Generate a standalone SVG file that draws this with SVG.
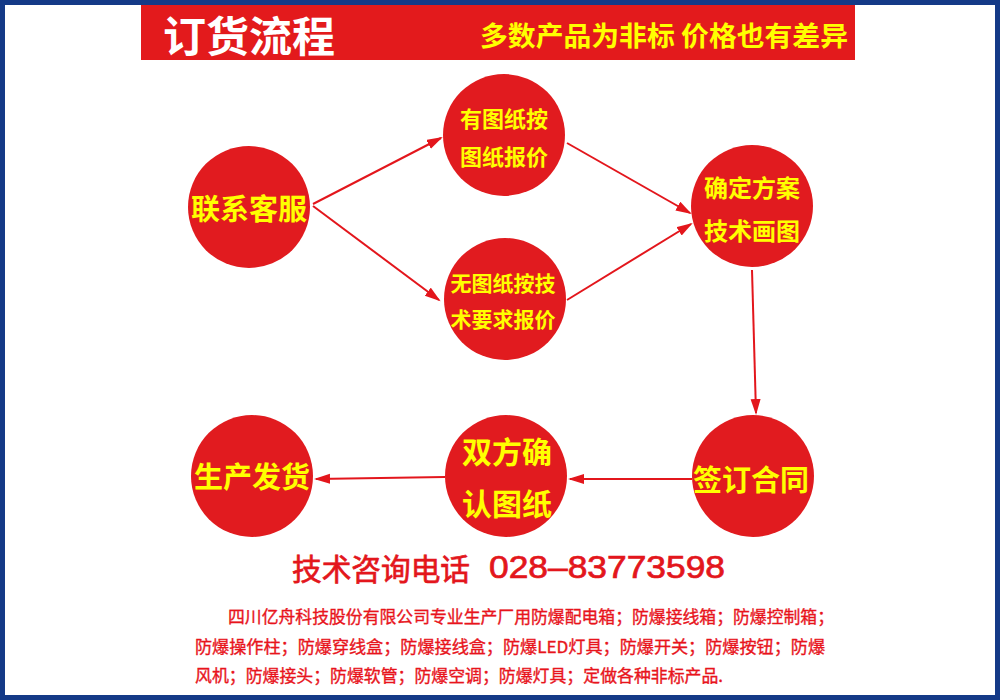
<svg xmlns="http://www.w3.org/2000/svg" width="1000" height="700" viewBox="0 0 1000 700">
<defs>
<style>
.node circle{fill:#e11b1f}
.nt{font-family:"Noto Sans CJK SC","Liberation Sans",sans-serif;font-weight:bold;fill:#ffff00;text-anchor:middle;dominant-baseline:central}
.conn line{stroke:#e3161c;stroke-width:2;marker-end:url(#ah)}
.foot{font-family:"Noto Sans CJK SC","Liberation Sans",sans-serif;fill:#e8141c;stroke:#e8141c;stroke-width:0.35;font-size:16.5px;dominant-baseline:central}
.ph{fill:#e3161c;stroke:#e3161c;stroke-width:0.7;dominant-baseline:central}
</style>
<marker id="ah" markerUnits="userSpaceOnUse" markerWidth="18" markerHeight="12" refX="14" refY="5" orient="auto">
<path d="M0,0 L16,5 L0,10 z" fill="#e3161c"/>
</marker>
</defs>
<rect x="0" y="0" width="1000" height="700" fill="#ffffff"/>
<rect x="2.5" y="2.5" width="995" height="695" fill="none" stroke="#143a87" stroke-width="5"/>
<g id="header">
<rect x="141" y="5" width="714" height="55" fill="#e31a1c"/>
<text x="163" y="33" font-family="Noto Sans CJK SC,sans-serif" font-weight="bold" font-size="42" fill="#ffffff" dominant-baseline="central" textLength="172" lengthAdjust="spacingAndGlyphs">订货流程</text>
<text x="480" y="34" font-family="Noto Sans CJK SC,sans-serif" font-weight="bold" font-size="27" fill="#ffff00" dominant-baseline="central" textLength="368" lengthAdjust="spacingAndGlyphs">多数产品为非标 价格也有差异</text>
</g>
<g id="connectors" class="conn">
<line x1="313" y1="204" x2="441" y2="138"/>
<line x1="313" y1="206" x2="439" y2="300"/>
<line x1="567" y1="143" x2="690" y2="213"/>
<line x1="567" y1="300" x2="691" y2="224"/>
<line x1="752" y1="270" x2="756" y2="413"/>
<line x1="692" y1="479" x2="570" y2="479"/>
<line x1="445" y1="477" x2="316" y2="479"/>
</g>
<g id="n1" class="node"><circle cx="249" cy="207" r="61"/><text class="nt" x="249" y="207" font-size="29">联系客服</text></g>
<g id="n2" class="node"><circle cx="504" cy="135" r="61"/><text class="nt" x="504" y="117" font-size="22">有图纸按</text><text class="nt" x="504" y="155" font-size="22">图纸报价</text></g>
<g id="n3" class="node"><circle cx="505" cy="299" r="61"/><text class="nt" x="503" y="282" font-size="21">无图纸按技</text><text class="nt" x="503" y="318" font-size="21">术要求报价</text></g>
<g id="n4" class="node"><circle cx="752" cy="206" r="61"/><text class="nt" x="752" y="186" font-size="24">确定方案</text><text class="nt" x="752" y="229" font-size="24">技术画图</text></g>
<g id="n5" class="node"><circle cx="753" cy="476" r="61"/><text class="nt" x="751" y="478" font-size="29">签订合同</text></g>
<g id="n6" class="node"><circle cx="506" cy="476" r="61"/><text class="nt" x="507" y="450" font-size="30">双方确</text><text class="nt" x="507" y="502" font-size="30">认图纸</text></g>
<g id="n7" class="node"><circle cx="252" cy="476" r="61"/><text class="nt" x="252" y="475" font-size="29">生产发货</text></g>
<g id="phone">
<text class="ph" x="292" y="567" font-family="Noto Sans CJK SC,sans-serif" font-size="30" textLength="178" lengthAdjust="spacingAndGlyphs">技术咨询电话</text>
<text class="ph" x="489" y="567" font-family="Liberation Sans,Arial,sans-serif" font-size="31" textLength="236" lengthAdjust="spacingAndGlyphs">028–83773598</text>
</g>
<g id="footer">
<text class="foot" x="228" y="616" textLength="606" lengthAdjust="spacingAndGlyphs">四川亿舟科技股份有限公司专业生产厂用防爆配电箱；防爆接线箱；防爆控制箱；</text>
<text class="foot" x="195" y="646" textLength="630" lengthAdjust="spacingAndGlyphs">防爆操作柱；防爆穿线盒；防爆接线盒；防爆LED灯具；防爆开关；防爆按钮；防爆</text>
<text class="foot" x="195" y="675" textLength="528" lengthAdjust="spacingAndGlyphs">风机；防爆接头；防爆软管；防爆空调；防爆灯具；定做各种非标产品.</text>
</g>
</svg>
